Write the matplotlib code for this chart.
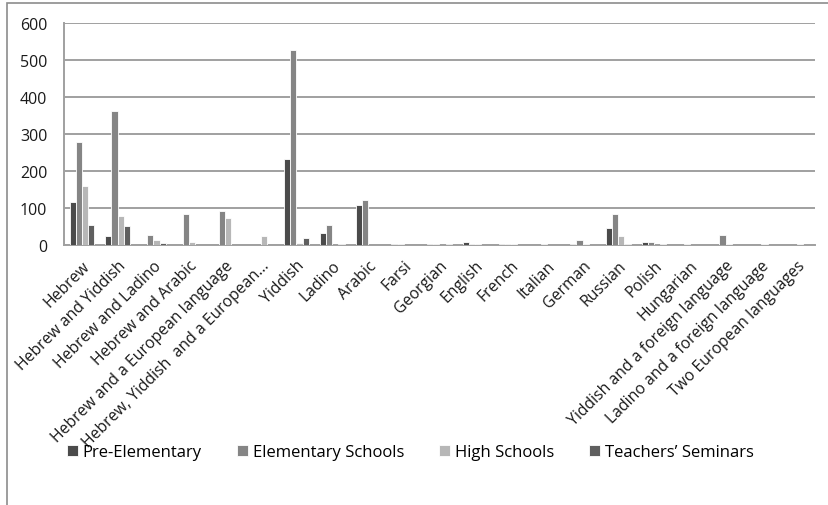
import matplotlib.pyplot as plt
import numpy as np
from matplotlib.patches import Rectangle

languages = [
    'Hebrew', 'Hebrew and Yiddish', 'Hebrew and Ladino', 'Hebrew and Arabic',
    'Hebrew and a European language', 'Hebrew, Yiddish  and a European...',
    'Yiddish', 'Ladino', 'Arabic', 'Farsi', 'Georgian', 'English', 'French',
    'Italian', 'German', 'Russian', 'Polish', 'Hungarian',
    'Yiddish and a foreign language', 'Ladino and a foreign language',
    'Two European languages',
]
pre_elementary = [116, 23, 0, 0, 0, 0, 231, 31, 108, 3, 2, 8, 2, 0, 2, 45, 8, 0, 0, 0, 0]
elementary = [279, 361, 26, 83, 90, 0, 528, 52, 120, 2, 2, 3, 2, 2, 12, 83, 8, 3, 27, 0, 0]
high_schools = [160, 78, 13, 8, 71, 23, 4, 0, 0, 0, 0, 3, 2, 0, 2, 23, 0, 0, 3, 2, 3]
seminars = [52, 50, 5, 0, 0, 0, 19, 3, 0, 0, 2, 0, 0, 0, 0, 3, 3, 0, 0, 0, 0]

series = [
    ('Pre-Elementary', pre_elementary, '#4b4b4b'),
    ('Elementary Schools', elementary, '#858585'),
    ('High Schools', high_schools, '#b7b7b7'),
    ('Teachers\u2019 Seminars', seminars, '#5f5f5f'),
]

plt.rcParams['font.family'] = ['Open Sans', 'DejaVu Sans']

fig = plt.figure(figsize=(8.29, 5.06), dpi=100)
ax = fig.add_axes([64 / 829, 1 - 245.7 / 506, (815 - 64) / 829, (245.7 - 24) / 506])

# outer chart frame, cut off on the right and bottom
fig.patches.append(Rectangle((7 / 829, -0.05), 1.0, 1 - 3.5 / 506 + 0.05,
                             transform=fig.transFigure, fill=False,
                             edgecolor='#8c8c8c', linewidth=1.2))

x = np.arange(len(languages))
slot = 0.173
for i, (name, vals, color) in enumerate(series):
    ax.bar(x + (i - 1.5) * slot, vals, width=slot, color=color,
           edgecolor='white', linewidth=0.6, label=name, zorder=3)

ax.set_xlim(-0.5, len(languages) - 0.5)
ax.set_ylim(0, 600)
ax.set_yticks(range(0, 601, 100))
ax.yaxis.grid(True, color='#a0a0a0', linewidth=1.4, zorder=0)
for side in ['top', 'right']:
    ax.spines[side].set_visible(False)
for side in ['left', 'bottom']:
    ax.spines[side].set_color('#a0a0a0')
    ax.spines[side].set_linewidth(1.4)

ax.tick_params(axis='y', length=0, pad=12, labelsize=11.5, labelcolor='#1a1a1a')
ax.tick_params(axis='x', length=0, pad=9)
ax.set_xticks(x)
ax.set_xticklabels(languages, rotation=45, ha='right', rotation_mode='anchor',
                   fontsize=11.3, color='#1a1a1a')

fig.legend(loc='center', bbox_to_anchor=(0.495, 1 - 453 / 506), ncol=4,
           frameon=False, fontsize=12, handlelength=0.65, handleheight=0.65,
           handletextpad=0.3, columnspacing=2.1)

plt.savefig('out.png', dpi=100)
plt.close()
